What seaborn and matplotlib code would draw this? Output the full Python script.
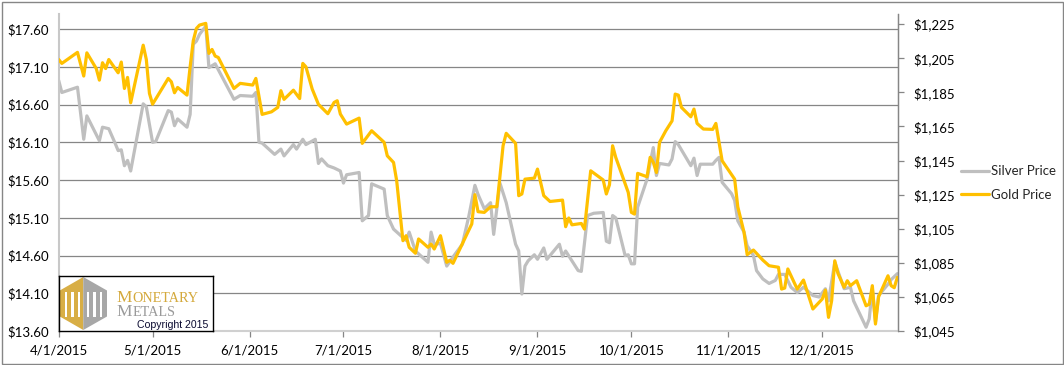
import seaborn as sns
import pandas as pd
import matplotlib.pyplot as plt
import matplotlib.dates as mdates
from matplotlib.ticker import FuncFormatter, FixedLocator
from matplotlib.patches import Polygon, Rectangle
from matplotlib.lines import Line2D

# days counted from 4/1/2015
silver_days = [0, 1, 6, 8, 9, 13, 14, 16, 18, 19, 20, 21, 22, 23, 27, 28, 30, 31,
               35, 36, 37, 38, 41, 42, 43, 44, 45, 47, 48, 50, 56, 58, 62, 63, 64,
               65, 69, 71, 72, 75, 76, 78, 79, 82, 83, 84, 86, 88, 90, 91, 92, 96,
               97, 99, 100, 104, 105, 107, 111, 112, 114, 118, 119, 120, 122, 124,
               126, 129, 131, 133, 134, 136, 138, 139, 141, 143, 146, 147, 148, 149,
               150, 152, 153, 155, 156, 160, 161, 162, 166, 167, 169, 171, 174, 175,
               176, 177, 178, 181, 182, 183, 184, 185, 188, 190, 191, 192, 195, 196,
               197, 198, 202, 203, 204, 205, 209, 210, 211, 212, 215, 216, 217, 219,
               220, 222, 223, 225, 227, 229, 230, 232, 234, 236, 238, 241, 243, 245,
               246, 248, 251, 253, 254, 258, 259, 260, 261, 262, 265, 266, 268]
silver_price = [16.92, 16.76, 16.83, 16.14, 16.45, 16.12, 16.30, 16.28, 16.09, 15.99,
                16.00, 15.79, 15.86, 15.72, 16.61, 16.57, 16.10, 16.11, 16.52, 16.50,
                16.32, 16.41, 16.30, 16.47, 17.40, 17.44, 17.53, 17.64, 17.09, 17.14,
                16.67, 16.72, 16.71, 16.76, 16.10, 16.09, 15.94, 16.01, 15.92, 16.07,
                16.01, 16.14, 16.07, 16.14, 15.82, 15.88, 15.79, 15.76, 15.72, 15.56,
                15.67, 15.70, 15.06, 15.13, 15.55, 15.48, 15.13, 14.95, 14.80, 14.91,
                14.66, 14.51, 14.91, 14.75, 14.76, 14.46, 14.58, 14.75, 15.11, 15.53,
                15.41, 15.22, 15.30, 14.88, 15.56, 15.30, 14.75, 14.66, 14.09, 14.46,
                14.53, 14.61, 14.55, 14.70, 14.55, 14.75, 14.59, 14.66, 14.40, 14.39,
                15.13, 15.16, 15.17, 14.79, 14.77, 15.13, 15.10, 14.60, 14.61, 14.49,
                14.49, 15.24, 15.61, 16.03, 15.66, 15.82, 15.80, 15.88, 16.11, 16.07,
                15.79, 15.89, 15.66, 15.81, 15.81, 15.86, 15.90, 15.57, 15.42, 15.33,
                15.06, 14.91, 14.73, 14.60, 14.40, 14.29, 14.23, 14.27, 14.35, 14.35,
                14.18, 14.11, 14.18, 14.07, 14.05, 14.16, 14.00, 14.51, 14.16, 14.18,
                14.00, 13.65, 13.76, 14.16, 13.72, 14.07, 14.22, 14.28, 14.36]

gold_days = [0, 1, 6, 8, 9, 12, 13, 14, 15, 16, 19, 20, 21, 22, 23, 27, 28, 29, 30,
             35, 36, 37, 38, 41, 42, 43, 44, 45, 47, 48, 49, 50, 51, 56, 58, 62, 63,
             65, 68, 70, 71, 72, 75, 77, 78, 79, 81, 83, 86, 88, 89, 90, 92, 96, 97,
             100, 104, 105, 107, 108, 110, 111, 112, 114, 115, 118, 119, 120, 122,
             124, 125, 126, 132, 133, 134, 136, 138, 140, 142, 143, 146, 147, 148,
             149, 152, 153, 155, 157, 161, 162, 163, 164, 167, 168, 170, 174, 175,
             176, 177, 178, 182, 183, 184, 185, 188, 189, 190, 191, 192, 194, 196,
             197, 198, 199, 202, 203, 204, 206, 209, 210, 212, 216, 217, 219, 220,
             222, 225, 227, 230, 231, 232, 233, 236, 238, 241, 244, 245, 246, 247,
             248, 249, 251, 252, 253, 255, 258, 259, 260, 261, 262, 265, 266, 267, 268]
gold_price = [1204.3, 1202.0, 1208.5, 1194.6, 1208.2, 1199.0, 1192.2, 1202.4, 1199.0,
              1204.3, 1196.5, 1202.8, 1187.3, 1193.8, 1178.9, 1212.7, 1204.3, 1184.4,
              1178.1, 1193.2, 1191.2, 1184.8, 1187.9, 1183.4, 1200.0, 1215.3, 1222.5,
              1224.5, 1225.5, 1207.9, 1210.2, 1206.3, 1205.5, 1187.3, 1190.3, 1189.3,
              1193.2, 1172.1, 1173.6, 1176.2, 1186.0, 1180.9, 1186.3, 1181.4, 1202.0,
              1200.0, 1187.0, 1178.0, 1172.5, 1179.1, 1180.1, 1172.3, 1166.4, 1169.9,
              1155.1, 1162.5, 1155.7, 1147.8, 1143.9, 1133.2, 1098.0, 1100.9, 1094.1,
              1090.6, 1099.0, 1094.1, 1096.0, 1093.1, 1100.9, 1085.3, 1086.5, 1084.7,
              1107.8, 1125.0, 1115.0, 1114.6, 1117.9, 1117.9, 1153.7, 1161.0, 1155.1,
              1124.4, 1125.4, 1134.1, 1134.7, 1140.0, 1124.4, 1121.0, 1121.8, 1106.2,
              1111.3, 1107.3, 1108.1, 1104.8, 1139.0, 1133.6, 1125.4, 1130.8, 1153.7,
              1146.9, 1126.3, 1114.6, 1113.6, 1137.5, 1135.5, 1146.9, 1144.0, 1138.0,
              1155.7, 1162.5, 1168.3, 1184.0, 1183.4, 1176.2, 1170.7, 1175.2, 1166.8,
              1163.5, 1163.3, 1166.8, 1144.9, 1134.1, 1117.9, 1102.9, 1089.8, 1092.5,
              1086.6, 1083.3, 1082.4, 1069.6, 1070.2, 1081.4, 1069.6, 1074.9, 1057.9,
              1063.8, 1069.0, 1053.0, 1062.8, 1086.2, 1078.8, 1070.6, 1074.5, 1071.6,
              1074.5, 1059.8, 1060.7, 1071.6, 1049.1, 1065.1, 1077.4, 1071.6, 1070.4,
              1076.5]

silver_ticks = [13.60, 14.10, 14.60, 15.10, 15.60, 16.10, 16.60, 17.10, 17.60]
gold_ticks = [1045, 1065, 1085, 1105, 1125, 1145, 1165, 1185, 1205, 1225]
month_ticks = ["2015-04-01", "2015-05-01", "2015-06-01", "2015-07-01", "2015-08-01",
               "2015-09-01", "2015-10-01", "2015-11-01", "2015-12-01"]

start = pd.Timestamp("2015-04-01")
silver = pd.DataFrame({"date": start + pd.to_timedelta(silver_days, unit="D"),
                       "price": silver_price})
gold = pd.DataFrame({"date": start + pd.to_timedelta(gold_days, unit="D"),
                     "price": gold_price})

sns.set_style("white")
plt.rcParams["font.family"] = ["Lato", "DejaVu Sans"]

W, H = 1064, 365
fig = plt.figure(figsize=(W / 100, H / 100), dpi=100)
ax = fig.add_axes([58.7 / W, 1 - 331 / H, (898 - 58.7) / W, (331 - 14) / H])
ax2 = ax.twinx()

silver_c = "#bfbfbf"
gold_c = "#ffc000"
grid_c = "#868686"

sns.lineplot(data=silver, x="date", y="price", ax=ax, color=silver_c, linewidth=2.3)
sns.lineplot(data=gold, x="date", y="price", ax=ax2, color=gold_c, linewidth=2.3)

ax.set_xlim(start, start + pd.Timedelta(days=268.2))
ax.set_ylim(13.6, 17.8)
ax2.set_ylim(1045, 1231)

ax.yaxis.set_major_locator(FixedLocator(silver_ticks))
ax.yaxis.set_major_formatter(FuncFormatter(lambda v, p: f"${v:.2f}"))
ax2.yaxis.set_major_locator(FixedLocator(gold_ticks))
ax2.yaxis.set_major_formatter(FuncFormatter(lambda v, p: f"${v:,.0f}"))
ax.xaxis.set_major_locator(FixedLocator(mdates.date2num(pd.to_datetime(month_ticks))))
ax.xaxis.set_major_formatter(FuncFormatter(
    lambda v, p: (lambda d: f"{d.month}/{d.day}/{d.year}")(mdates.num2date(v))))

ax.grid(axis="y", color=grid_c, linewidth=0.9)
ax.grid(axis="x", visible=False)
ax2.grid(False)
ax.set_axisbelow(True)
ax.set_xlabel("")
ax.set_ylabel("")
ax2.set_ylabel("")

for a in (ax, ax2):
    a.spines["top"].set_visible(False)
    for s in ("left", "right", "bottom"):
        a.spines[s].set_color(grid_c)
        a.spines[s].set_linewidth(0.9)
ax.spines["bottom"].set_color("#d0d0d0")
ax.spines["bottom"].set_linewidth(1.5)
ax.spines["left"].set_color("#c8c8c8")
ax.spines["left"].set_linewidth(1.5)
ax2.spines["left"].set_visible(False)
ax2.spines["bottom"].set_visible(False)

ax.tick_params(axis="y", length=0, pad=7, labelsize=9.5, colors="black")
ax.tick_params(axis="x", length=4, width=0.9, color=grid_c, pad=6, labelsize=9.5,
               labelcolor="black", bottom=True)
ax2.tick_params(axis="y", length=4, width=0.9, color=grid_c, pad=7, labelsize=9.5,
                labelcolor="black", right=True)

# legend on the right
handles = [Line2D([], [], color=silver_c, linewidth=2.3),
           Line2D([], [], color=gold_c, linewidth=2.3)]
fig.legend(handles, ["Silver Price", "Gold Price"], loc="center left",
           bbox_to_anchor=(961 / W, 1 - 183 / H), frameon=False, fontsize=9.5,
           handlelength=2.1, handletextpad=0.2, labelspacing=0.85,
           borderpad=0, borderaxespad=0)

# logo box
lx0, lx1, ly0, ly1 = 58.7, 213, 275.7, 331
lg = fig.add_axes([lx0 / W, 1 - ly1 / H, (lx1 - lx0) / W, (ly1 - ly0) / H])
lg.set_xlim(lx0, lx1)
lg.set_ylim(ly1, ly0)
lg.set_xticks([])
lg.set_yticks([])
lg.set_facecolor("white")
for s in lg.spines.values():
    s.set_color("black")
    s.set_linewidth(1.0)
    s.set_visible(True)

cx = 83.3
lg.add_patch(Polygon([(cx, 277), (cx, 330), (59.8, 316.5), (59.8, 290.5)],
                     closed=True, color="#d8ae45", lw=0))
lg.add_patch(Polygon([(cx, 277), (107, 290.5), (107, 316.5), (cx, 330)],
                     closed=True, color="#a7a7a7", lw=0))
for x0 in (64.5, 71, 77.5, 86.5, 93, 99.5):
    lg.add_patch(Rectangle((x0, 292), 2.6, 25, color="white", lw=0))

serif = "Liberation Serif"
lg.text(116.5, 302, "M", fontsize=12.5, family=serif, color="#d4a93c", va="baseline")
lg.text(132.5, 302, "ONETARY", fontsize=10.2, family=serif, color="#d4a93c",
        va="baseline")
lg.text(116.5, 316.5, "M", fontsize=12.5, family=serif, color="#9a9a9a", va="baseline")
lg.text(132.5, 316.5, "ETALS", fontsize=10.2, family=serif, color="#9a9a9a",
        va="baseline")
lg.text(208.5, 325, "Copyright 2015", fontsize=7.6, family="Liberation Sans",
        color="#0a0a30", ha="right", va="center")

# outer chart border
fig.patches.append(Rectangle((1.5 / W, 1.5 / H), (W - 3) / W, (H - 3) / H,
                             transform=fig.transFigure, fill=False,
                             edgecolor="#868686", linewidth=1.0))

fig.savefig("out.png", dpi=100)
